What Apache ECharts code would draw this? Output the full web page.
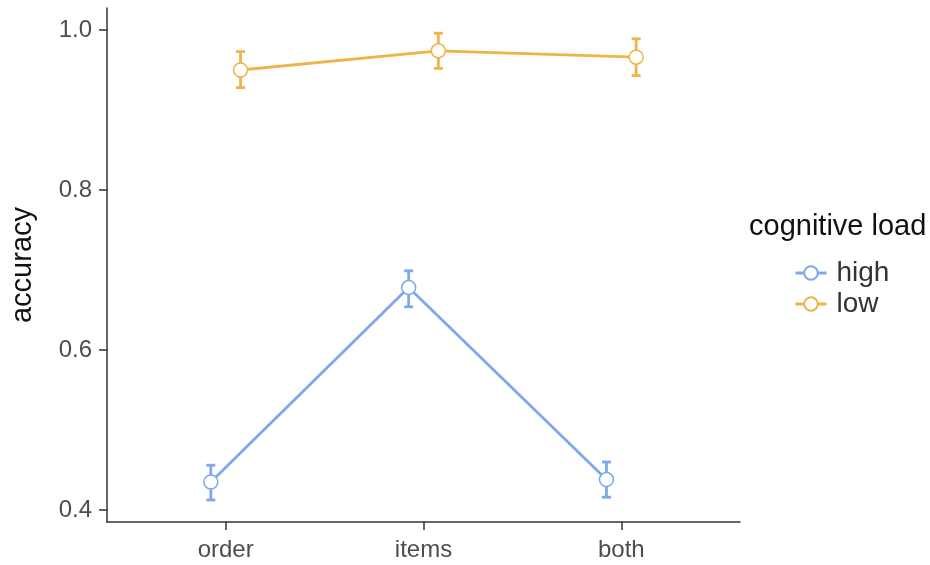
<!DOCTYPE html>
<html>
<head>
<meta charset="utf-8">
<script src="https://cdn.jsdelivr.net/npm/echarts@6/dist/echarts.min.js"></script>
<style>
  html, body { margin: 0; padding: 0; background: #fff; }
  #chart { width: 930px; height: 565px; }
</style>
</head>
<body>
<div id="chart"></div>
<script>
// Conditions on the x axis and cognitive-load groups
const categories = ['order', 'items', 'both'];
const loads = ['high', 'low'];

// Mean accuracy with error-bar limits per condition
const highMean  = [0.435, 0.678, 0.438];
const highLower = [0.4125, 0.654, 0.416];
const highUpper = [0.456, 0.699, 0.460];

const lowMean  = [0.950, 0.974, 0.966];
const lowLower = [0.928, 0.952, 0.943];
const lowUpper = [0.973, 0.996, 0.989];

const yTicks = [0.4, 0.6, 0.8, 1.0];

const colors = { high: '#7EA8EC', low: '#EDB547' };
const dodge = 0.075;   // horizontal offset of each group within a condition
const FONT = '"Liberation Sans", Arial, sans-serif';

function points(means, shift) {
  return means.map((m, i) => [i + 1 + shift, m]);
}
function bars(lower, upper, shift) {
  return lower.map((lo, i) => [i + 1 + shift, lo, upper[i]]);
}

function errorBar(color) {
  return function (params, api) {
    const x = api.value(0);
    const lo = api.coord([x, api.value(1)]);
    const hi = api.coord([x, api.value(2)]);
    const half = 4.5;
    const style = { stroke: color, lineWidth: 2.8, fill: null };
    return {
      type: 'group',
      children: [
        { type: 'line', shape: { x1: hi[0], y1: hi[1], x2: lo[0], y2: lo[1] }, style },
        { type: 'line', shape: { x1: hi[0] - half, y1: hi[1], x2: hi[0] + half, y2: hi[1] }, style },
        { type: 'line', shape: { x1: lo[0] - half, y1: lo[1], x2: lo[0] + half, y2: lo[1] }, style }
      ]
    };
  };
}

const groups = [
  { name: loads[0], mean: highMean, lower: highLower, upper: highUpper, shift: -dodge },
  { name: loads[1], mean: lowMean,  lower: lowLower,  upper: lowUpper,  shift: dodge }
];

const series = [];
groups.forEach(g => {
  const c = colors[g.name];
  series.push({
    type: 'custom',
    name: g.name + ' error',
    renderItem: errorBar(c),
    data: bars(g.lower, g.upper, g.shift),
    z: 1,
    silent: true
  });
});
groups.forEach(g => {
  const c = colors[g.name];
  series.push({
    type: 'line',
    name: g.name,
    data: points(g.mean, g.shift),
    symbol: 'circle',
    symbolSize: 14,
    showAllSymbol: true,
    lineStyle: { color: c, width: 2.8 },
    itemStyle: { color: '#ffffff', borderColor: c, borderWidth: 1.5 },
    z: 3,
    animation: false
  });
});

const chart = echarts.init(document.getElementById('chart'), null, { renderer: 'canvas' });
chart.setOption({
  animation: false,
  backgroundColor: '#ffffff',
  color: [colors.high, colors.low],
  title: {
    text: 'cognitive load',
    left: 744,
    top: 207,
    textStyle: { fontFamily: FONT, fontSize: 29, fontWeight: 'normal', color: '#111' }
  },
  legend: {
    data: loads,
    orient: 'vertical',
    left: 789,
    top: 254,
    itemWidth: 31,
    itemHeight: 17,
    itemGap: 3,
    lineStyle: { width: 3 },
    textStyle: { fontFamily: FONT, fontSize: 28, color: '#333', padding: [0, 0, 0, 5] }
  },
  grid: { left: 105, right: 190, top: 8, bottom: 43 },
  xAxis: {
    type: 'value',
    min: 0.4,
    max: 3.6,
    splitLine: { show: false },
    axisLine: { show: true, lineStyle: { color: '#333', width: 1.5 } },
    axisTick: { show: true, length: 8, customValues: [1, 2, 3], lineStyle: { color: '#333', width: 1.5 } },
    axisLabel: {
      customValues: [1, 2, 3],
      formatter: v => categories[Math.round(v) - 1],
      fontFamily: FONT, fontSize: 24, color: '#4D4D4D', margin: 16
    }
  },
  yAxis: {
    type: 'value',
    min: 0.385,
    max: 1.0275,
    name: 'accuracy',
    nameLocation: 'middle',
    nameGap: 70,
    nameRotate: 90,
    nameTextStyle: { fontFamily: FONT, fontSize: 29, color: '#111' },
    splitLine: { show: false },
    axisLine: { show: true, lineStyle: { color: '#333', width: 1.5 } },
    axisTick: { show: true, length: 8, customValues: yTicks, lineStyle: { color: '#333', width: 1.5 } },
    axisLabel: {
      customValues: yTicks,
      formatter: v => v.toFixed(1),
      fontFamily: FONT, fontSize: 24, color: '#4D4D4D', margin: 15
    }
  },
  series
});
</script>
</body>
</html>
